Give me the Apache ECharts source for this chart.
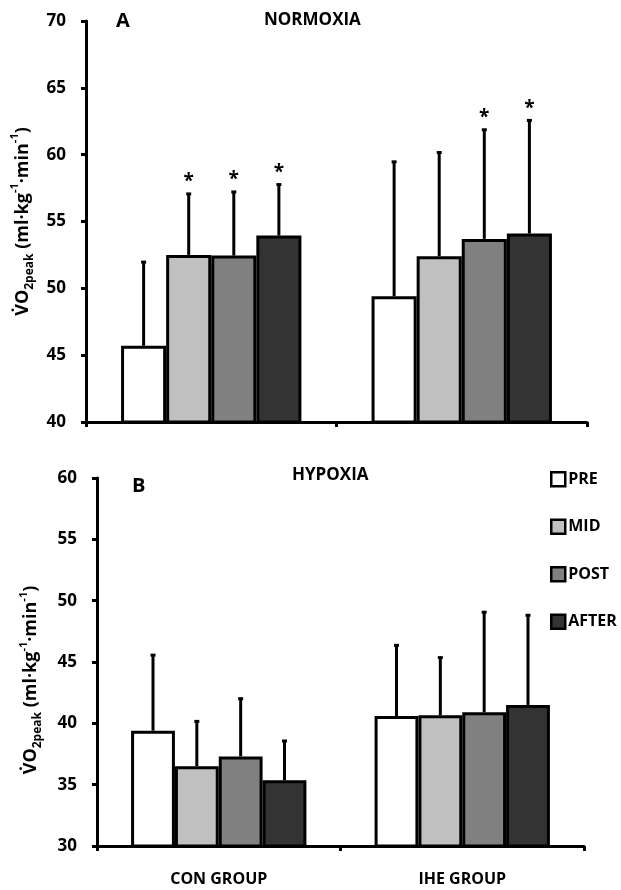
<!DOCTYPE html>
<html>
<head>
<meta charset="utf-8">
<title>VO2peak normoxia / hypoxia</title>
<script src="https://cdn.jsdelivr.net/npm/echarts@6/dist/echarts.min.js"></script>
<style>
  html, body { margin: 0; padding: 0; background: #fff; }
  #main { width: 621px; height: 890px; }
</style>
</head>
<body>
<div id="main"></div>
<script>
// groups on the x axis
const categories = ['CON GROUP', 'IHE GROUP']
const phases = ['PRE', 'MID', 'POST', 'AFTER']
const phaseColors = ['#ffffff', '#c0c0c0', '#808080', '#333333']

// A - normoxia, means and SD (upper error only), per phase [CON, IHE]
const normPre = [45.7, 49.4]
const normMid = [52.5, 52.4]
const normPost = [52.45, 53.7]
const normAfter = [53.95, 54.1]
const normPreSd = [6.3, 10.1]
const normMidSd = [4.6, 7.8]
const normPostSd = [4.8, 8.2]
const normAfterSd = [3.85, 8.5]
// significance marks
const normStar = [[false, false], [true, false], [true, true], [true, true]]

// B - hypoxia
const hypPre = [39.4, 40.6]
const hypMid = [36.5, 40.65]
const hypPost = [37.3, 40.9]
const hypAfter = [35.35, 41.5]
const hypPreSd = [6.2, 5.8]
const hypMidSd = [3.7, 4.75]
const hypPostSd = [4.75, 8.2]
const hypAfterSd = [3.25, 7.35]
const hypStar = [[false, false], [false, false], [false, false], [false, false]]

const normTicks = [40, 70, 5]
const hypTicks = [30, 60, 5]

const FONT = '"Open Sans", "DejaVu Sans", sans-serif'
const GAP = 0.28

const myChart = echarts.init(document.getElementById('main'))

function errData(means, sds, stars) {
  const out = []
  means.forEach((m, i) => {
    m.forEach((v, j) => {
      out.push([j, i, v, sds[i][j], stars[i][j] ? 1 : 0])
    })
  })
  return out
}

function renderErr(params, api) {
  const j = api.value(0)
  const i = api.value(1)
  const mean = api.value(2)
  const sd = api.value(3)
  const star = api.value(4)
  const band = api.size([1, 0])[0]
  const barW = band * (1 - GAP) / 4
  const cx = api.coord([j, mean])[0] + (i - 1.5) * barW
  const y0 = api.coord([j, mean])[1]
  const y1 = api.coord([j, mean + sd])[1]
  const children = [
    { type: 'line', shape: { x1: cx, y1: y0, x2: cx, y2: y1 }, style: { stroke: '#000', lineWidth: 3 } },
    { type: 'rect', shape: { x: cx - 2.5, y: y1 - 1, width: 5, height: 3 }, style: { fill: '#000' } }
  ]
  if (star) {
    children.push({
      type: 'text',
      style: { text: '*', x: cx, y: y1 - 2, align: 'center', verticalAlign: 'bottom', font: 'bold 19px ' + FONT, fill: '#000' }
    })
  }
  return { type: 'group', children: children }
}

function yAxisCfg(grid, ticks, pad) {
  return {
    type: 'value',
    gridIndex: grid,
    min: ticks[0],
    max: ticks[1],
    interval: ticks[2],
    name: '{v|V\u0307O}{sub|2peak}{v| (ml\u00b7kg}{sup|-1}{v|\u00b7min}{sup|-1}{v|)}',
    nameLocation: 'middle',
    nameGap: grid === 0 ? 46 : 53,
    nameRotate: 90,
    nameTextStyle: {
      padding: pad,
      rich: {
        v: { fontSize: 18, fontWeight: 'bold', fontFamily: FONT, color: '#000', lineHeight: 26, verticalAlign: 'middle' },
        sub: { fontSize: 12, fontWeight: 'bold', fontFamily: FONT, color: '#000', lineHeight: 26, verticalAlign: 'bottom' },
        sup: { fontSize: 11, fontWeight: 'bold', fontFamily: FONT, color: '#000', lineHeight: 26, verticalAlign: 'top' }
      }
    },
    axisLine: { show: true, lineStyle: { color: '#000', width: 3 } },
    axisTick: { show: true, length: 5, lineStyle: { color: '#000', width: 3 } },
    axisLabel: { margin: 20, fontSize: 17, fontWeight: 'bold', fontFamily: FONT, color: '#000' },
    splitLine: { show: false }
  }
}

function xAxisCfg(grid, showLabel) {
  return {
    type: 'category',
    gridIndex: grid,
    data: categories,
    axisLine: { lineStyle: { color: '#000', width: 3 } },
    axisTick: { show: true, length: 5, lineStyle: { color: '#000', width: 3 } },
    axisLabel: { show: showLabel, margin: 25, fontSize: 16, fontWeight: 'bold', fontFamily: FONT, color: '#000' }
  }
}

const normMeans = [normPre, normMid, normPost, normAfter]
const normSds = [normPreSd, normMidSd, normPostSd, normAfterSd]
const hypMeans = [hypPre, hypMid, hypPost, hypAfter]
const hypSds = [hypPreSd, hypMidSd, hypPostSd, hypAfterSd]

const series = []
;[normMeans, hypMeans].forEach((means, g) => {
  phases.forEach((p, i) => {
    series.push({
      name: p,
      type: 'bar',
      xAxisIndex: g,
      yAxisIndex: g,
      data: means[i],
      barGap: '0%',
      barCategoryGap: (GAP * 100) + '%',
      itemStyle: { color: phaseColors[i], borderColor: '#000', borderWidth: 3 }
    })
  })
})
series.push({
  name: 'errNorm', type: 'custom', xAxisIndex: 0, yAxisIndex: 0, z: 5,
  renderItem: renderErr, encode: { x: 0, y: 2 },
  data: errData(normMeans, normSds, normStar)
})
series.push({
  name: 'errHyp', type: 'custom', xAxisIndex: 1, yAxisIndex: 1, z: 5,
  renderItem: renderErr, encode: { x: 0, y: 2 },
  data: errData(hypMeans, hypSds, hypStar)
})

const option = {
  animation: false,
  backgroundColor: '#fff',
  title: [
    { text: 'A', left: 111, top: 6, textStyle: { fontSize: 20, fontWeight: 'bold', fontFamily: FONT, color: '#000' } },
    { text: 'NORMOXIA', left: 259, top: 7, textStyle: { fontSize: 17, fontWeight: 'bold', fontFamily: FONT, color: '#000' } },
    { text: 'B', left: 127, top: 471, textStyle: { fontSize: 20, fontWeight: 'bold', fontFamily: FONT, color: '#000' } },
    { text: 'HYPOXIA', left: 287, top: 462, textStyle: { fontSize: 17, fontWeight: 'bold', fontFamily: FONT, color: '#000' } }
  ],
  legend: {
    data: phases,
    orient: 'vertical',
    left: 545,
    top: 466,
    itemWidth: 14,
    itemHeight: 14,
    itemGap: 31,
    icon: 'rect',
    itemStyle: { borderColor: '#000', borderWidth: 2.5 },
    textStyle: { fontSize: 16, fontWeight: 'bold', fontFamily: FONT, color: '#000', padding: [0, 0, 0, -2] }
  },
  grid: [
    { left: 86, right: 34, top: 21, height: 401 },
    { left: 97, right: 37, top: 478, height: 368 }
  ],
  xAxis: [xAxisCfg(0, false), xAxisCfg(1, true)],
  yAxis: [yAxisCfg(0, normTicks, [0, 0, 0, 0]), yAxisCfg(1, hypTicks, [0, 36, 0, 0])],
  series: series
}

myChart.setOption(option)
</script>
</body>
</html>
